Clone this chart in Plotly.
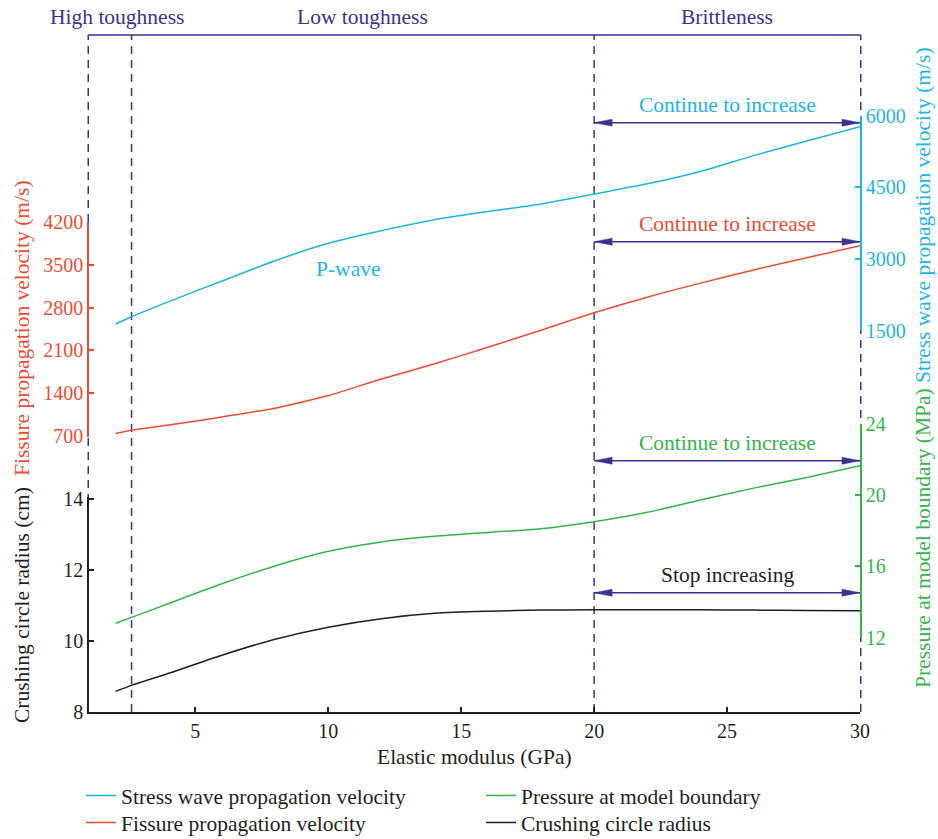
import plotly.graph_objects as go

# ---------------- data ----------------
modulus = [2, 2.6, 4, 6, 8, 10, 12, 14, 16, 18, 20, 22, 24, 26, 28, 30]
stress_wave = [1636, 1789, 2105, 2535, 2960, 3325, 3590, 3820, 3990, 4150, 4357, 4570, 4830, 5160, 5465, 5766]
fissure = [739, 793, 877, 1010, 1154, 1360, 1630, 1880, 2150, 2430, 2715, 2970, 3200, 3415, 3615, 3811]
pressure = [12.81, 13.14, 13.92, 15.03, 16.03, 16.85, 17.38, 17.69, 17.91, 18.12, 18.51, 19.04, 19.73, 20.40, 21.0, 21.65]
radius = [8.58, 8.75, 9.09, 9.60, 10.05, 10.39, 10.63, 10.78, 10.84, 10.87, 10.88, 10.88, 10.88, 10.87, 10.86, 10.85]

zone_bounds = [1, 2.6, 20, 30]
zone_labels = ["High toughness", "Low toughness", "Brittleness"]
zone_label_x = [2.05, 11.3, 25]

arrow_texts = ["Continue to increase", "Continue to increase", "Continue to increase", "Stop increasing"]
arrow_y = [0.8705, 0.6947, 0.3712, 0.1762]

x_range = [1, 30]
x_ticks = [5, 10, 15, 20, 25, 30]
radius_ticks = [8, 10, 12, 14]
fissure_ticks = [700, 1400, 2100, 2800, 3500, 4200]
stress_ticks = [1500, 3000, 4500, 6000]
pressure_ticks = [12, 16, 20, 24]

# ---------------- style ----------------
CYAN = "#1db4ea"
RED = "#ef4b32"
GREEN = "#35b44a"
BLACK = "#231f20"
INDIGO = "#3a3391"
FONT = "Liberation Serif"
FS = 21.5

fig = go.Figure()
fig.add_trace(go.Scatter(x=modulus, y=stress_wave, yaxis="y3", mode="lines", legend="legend",
                         line=dict(color=CYAN, width=1.5, shape="spline", smoothing=0.8),
                         name="Stress wave propagation velocity"))
fig.add_trace(go.Scatter(x=modulus, y=fissure, yaxis="y2", mode="lines", legend="legend2",
                         line=dict(color=RED, width=1.5, shape="spline", smoothing=0.8),
                         name="Fissure propagation velocity"))
fig.add_trace(go.Scatter(x=modulus, y=pressure, yaxis="y4", mode="lines", legend="legend3",
                         line=dict(color=GREEN, width=1.5, shape="spline", smoothing=0.8),
                         name="Pressure at model boundary"))
fig.add_trace(go.Scatter(x=modulus, y=radius, yaxis="y", mode="lines", legend="legend4",
                         line=dict(color=BLACK, width=1.5, shape="spline", smoothing=0.8),
                         name="Crushing circle radius"))

H = 677.0
W = 771.0
def py(px):
    return (712 - px) / H

def pxx(v):
    return (v - x_range[0]) / (x_range[1] - x_range[0])

shapes = []
for i, b in enumerate(zone_bounds):
    xb = pxx(b)
    if i == 0:
        xb -= 0.75 / W
    elif i == len(zone_bounds) - 1:
        xb += 0.75 / W
    shapes.append(dict(type="line", xref="paper", yref="paper", x0=xb, x1=xb, y0=0, y1=1,
                       line=dict(color=INDIGO, width=1.5, dash="8px,6px"), layer="below"))
shapes.append(dict(type="line", xref="paper", yref="paper", x0=pxx(zone_bounds[0]) - 0.75 / W,
                   x1=pxx(zone_bounds[-1]) + 0.75 / W, y0=1, y1=1,
                   line=dict(color=INDIGO, width=1.5), layer="below"))

hl = 18 / 26.59
hh = 3.5 / H
x0a, x1a = zone_bounds[2], zone_bounds[3]
for y in arrow_y:
    shapes.append(dict(type="line", xref="paper", yref="paper", x0=pxx(x0a), x1=pxx(x1a), y0=y, y1=y,
                       line=dict(color=INDIGO, width=1.5)))
    shapes.append(dict(type="path", xref="paper", yref="paper",
                       path=f"M {pxx(x0a)},{y} L {pxx(x0a + hl)},{y + hh} L {pxx(x0a + hl)},{y - hh} Z",
                       fillcolor=INDIGO, line=dict(color=INDIGO, width=0.5)))
    shapes.append(dict(type="path", xref="paper", yref="paper",
                       path=f"M {pxx(x1a)},{y} L {pxx(x1a - hl)},{y + hh} L {pxx(x1a - hl)},{y - hh} Z",
                       fillcolor=INDIGO, line=dict(color=INDIGO, width=0.5)))

def ann(text, x, y, color, xref="paper", angle=0):
    return dict(text=text, x=x, xref=xref, y=y, yref="paper", showarrow=False, textangle=angle,
                font=dict(family=FONT, size=FS, color=color), xanchor="center", yanchor="middle")

annotations = []
for lab, lx in zip(zone_labels, zone_label_x):
    annotations.append(ann(lab, lx, py(17), INDIGO, xref="x"))
arrow_colors = [CYAN, RED, GREEN, BLACK]
for t, y, c in zip(arrow_texts, arrow_y, arrow_colors):
    annotations.append(ann(t, (x0a + x1a) / 2, y + 18 / H, c, xref="x"))
annotations.append(ann("P-wave", 10.74, py(269), CYAN, xref="x"))

xl = (22 - 89) / W
xr = (923 - 89) / W
annotations.append(ann("Fissure propagation velocity (m/s)", xl, py(328), RED, angle=-90))
annotations.append(ann("Crushing circle radius (cm)", xl, py(605), BLACK, angle=-90))
annotations.append(ann("Stress wave propagation velocity (m/s)", xr, py(215), CYAN, angle=-90))
annotations.append(ann("Pressure at model boundary (MPa)", xr, py(538), GREEN, angle=-90))
annotations.append(ann("Elastic modulus (GPa)", 0.5, py(757), BLACK))

def yax(color, dom, rng, ticks, side):
    return dict(domain=dom, range=rng, tickvals=ticks, side=side, anchor="x",
                showline=True, linecolor=color, linewidth=1.5, ticks="inside", ticklen=5,
                tickcolor=color, tickwidth=1.5, showgrid=False, zeroline=False, automargin=False,
                tickfont=dict(family=FONT, size=20, color=color), fixedrange=True)

legfont = dict(family=FONT, size=21.5, color=BLACK)
def leg(xpx, toppx):
    return dict(orientation="v", xref="container", yref="container", x=xpx / 938, xanchor="left",
                y=(839 - toppx) / 839, yanchor="top", font=legfont, bgcolor="rgba(0,0,0,0)", tracegroupgap=0)

fig.update_layout(
    width=938, height=839,
    margin=dict(l=89, r=78, t=35, b=127, autoexpand=False),
    paper_bgcolor="white", plot_bgcolor="rgba(0,0,0,0)",
    showlegend=True,
    xaxis=dict(range=x_range, tickvals=x_ticks, anchor="y", showline=True, linecolor=BLACK, linewidth=1.5,
               ticks="inside", ticklen=5, tickcolor=BLACK, tickwidth=1.5, showgrid=False, zeroline=False,
               automargin=False, tickfont=dict(family=FONT, size=20, color=BLACK)),
    yaxis=yax(BLACK, [0, py(497)], [8, 8 + 215 / 35.5], radius_ticks, "left"),
    yaxis2=yax(RED, [py(436.5), py(222)], [690, 4200], fissure_ticks, "left"),
    yaxis3=yax(CYAN, [py(330.5), py(115.5)], [1500, 6000], stress_ticks, "right"),
    yaxis4=yax(GREEN, [py(637.7), py(424)], [12, 24], pressure_ticks, "right"),
    legend=leg(81, 775),
    legend2=leg(81, 802),
    legend3=leg(481, 775),
    legend4=leg(481, 802),
    shapes=shapes, annotations=annotations,
)

fig.write_html("out.html")
